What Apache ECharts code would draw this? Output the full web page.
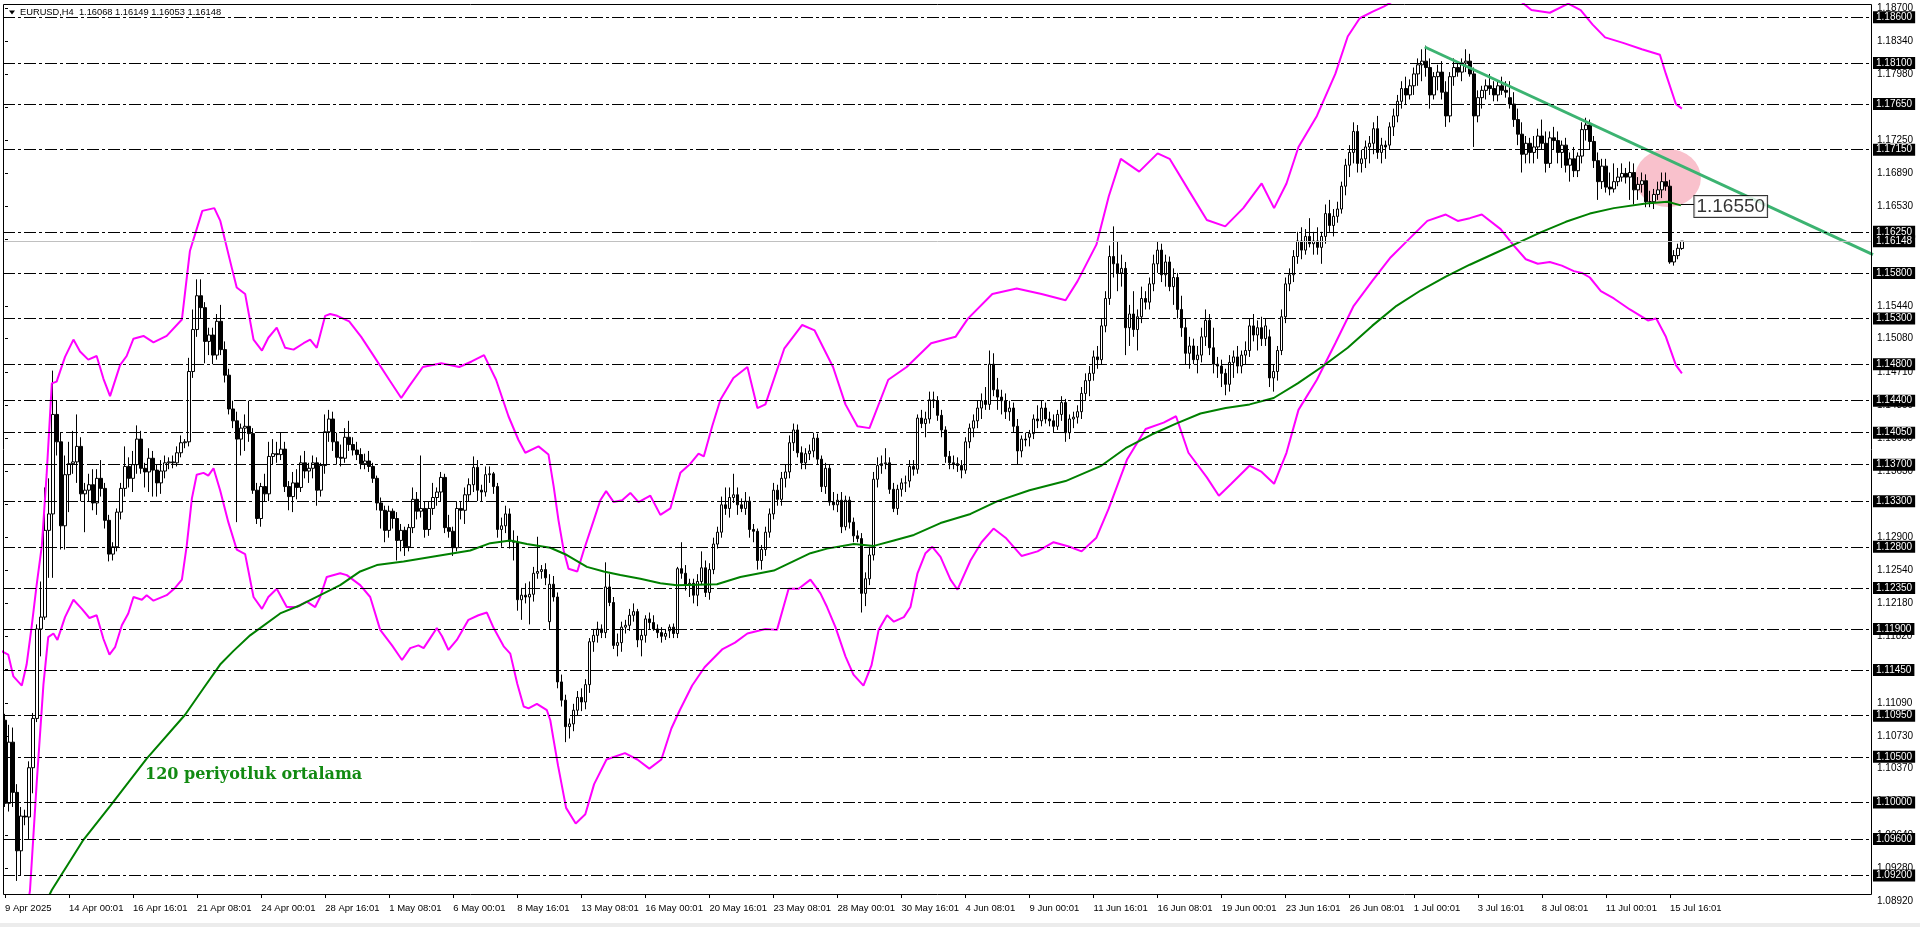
<!DOCTYPE html>
<html><head><meta charset="utf-8">
<script src="https://cdn.jsdelivr.net/npm/echarts@6/dist/echarts.min.js"></script>
<style>html,body{margin:0;padding:0;background:#fff}#c{width:1920px;height:927px}</style>
</head><body><div id="c"></div>
<script>
// time axis labels (one every 16 H4 bars)
const timeLabels = ['9 Apr 2025','14 Apr 00:01','16 Apr 16:01','21 Apr 08:01','24 Apr 00:01','28 Apr 16:01','1 May 08:01','6 May 00:01','8 May 16:01','13 May 08:01','16 May 00:01','20 May 16:01','23 May 08:01','28 May 00:01','30 May 16:01','4 Jun 08:01','9 Jun 00:01','11 Jun 16:01','16 Jun 08:01','19 Jun 00:01','23 Jun 16:01','26 Jun 08:01','1 Jul 00:01','3 Jul 16:01','8 Jul 08:01','11 Jul 00:01','15 Jul 16:01'];
// right price scale tick labels
const priceTicks = [1.18700,1.18340,1.17980,1.17610,1.17250,1.16890,1.16530,1.16170,1.15800,1.15440,1.15080,1.14710,1.14350,1.13990,1.13630,1.13270,1.12900,1.12540,1.12180,1.11820,1.11460,1.11090,1.10730,1.10370,1.10010,1.09640,1.09280,1.08920];
// horizontal dashed levels
const levels = [1.18600,1.18100,1.17650,1.17150,1.16250,1.15800,1.15300,1.14800,1.14400,1.14050,1.13700,1.13300,1.12800,1.12350,1.11900,1.11450,1.10950,1.10500,1.10000,1.09600,1.09200];
const bidPrice = 1.16148;
const titleText = 'EURUSD,H4  1.16068 1.16149 1.16053 1.16148';
const maText = '120 periyotluk ortalama';
const priceLabelValue = 1.16550;
// H4 candles: open, high, low, close (in 1/10000)
const candles = [
[11090,11097,10995,10999],[10999,11085,10990,11066],[11066,11082,10995,11011],[11011,11020,10914,10947],[10947,10995,10920,10985],[10985,10992,10975,10984],[10984,11045,10960,11038],[11038,11098,11010,11092],[11092,11195,11088,11190],[11190,11242,11160,11203],
[11203,11345,11200,11298],[11298,11355,11246,11316],[11316,11473,11246,11425],[11425,11440,11380,11395],[11395,11405,11277,11303],[11303,11380,11277,11359],[11359,11395,11318,11371],[11371,11407,11360,11373],[11373,11425,11350,11390],[11390,11400,11330,11338],
[11338,11350,11296,11342],[11342,11360,11330,11348],[11348,11365,11320,11328],[11328,11365,11315,11355],[11355,11375,11335,11344],[11344,11350,11300,11309],[11309,11315,11264,11272],[11272,11285,11265,11280],[11280,11322,11275,11318],[11318,11350,11310,11344],
[11344,11390,11335,11368],[11368,11378,11345,11355],[11355,11385,11340,11370],[11370,11413,11360,11398],[11398,11407,11360,11366],[11366,11372,11345,11362],[11362,11388,11340,11377],[11377,11385,11335,11364],[11364,11370,11335,11350],[11350,11375,11338,11363],
[11363,11380,11355,11372],[11372,11378,11365,11373],[11373,11380,11366,11372],[11372,11390,11368,11383],[11383,11402,11378,11394],[11394,11398,11388,11395],[11395,11487,11390,11472],[11472,11540,11465,11518],[11518,11573,11510,11555],[11555,11573,11530,11542],
[11542,11548,11481,11505],[11505,11520,11490,11512],[11512,11520,11480,11490],[11490,11535,11485,11527],[11527,11545,11490,11496],[11496,11505,11460,11468],[11468,11475,11425,11431],[11431,11440,11410,11418],[11418,11428,11307,11398],[11398,11415,11380,11410],
[11410,11425,11385,11412],[11412,11440,11395,11404],[11404,11410,11338,11342],[11342,11350,11305,11311],[11311,11350,11302,11346],[11346,11360,11330,11338],[11338,11395,11330,11379],[11379,11398,11370,11382],[11382,11395,11372,11381],[11381,11405,11375,11387],
[11387,11395,11340,11346],[11346,11352,11320,11335],[11335,11362,11318,11350],[11350,11365,11332,11345],[11345,11380,11340,11372],[11372,11385,11355,11363],[11363,11372,11350,11366],[11366,11380,11355,11372],[11372,11378,11325,11342],[11342,11372,11335,11369],
[11369,11425,11360,11406],[11406,11430,11395,11420],[11420,11428,11385,11395],[11395,11405,11370,11378],[11378,11392,11368,11377],[11377,11410,11372,11400],[11400,11418,11385,11392],[11392,11400,11380,11386],[11386,11395,11375,11381],[11381,11388,11365,11371],
[11371,11382,11365,11374],[11374,11385,11362,11368],[11368,11372,11350,11355],[11355,11358,11320,11328],[11328,11334,11300,11320],[11320,11325,11285,11298],[11298,11325,11290,11319],[11319,11322,11300,11311],[11311,11318,11265,11287],[11287,11305,11275,11298],
[11298,11302,11270,11280],[11280,11305,11275,11301],[11301,11345,11295,11332],[11332,11340,11310,11319],[11319,11380,11312,11322],[11322,11330,11290,11299],[11299,11330,11292,11322],[11322,11350,11315,11334],[11334,11345,11325,11340],[11340,11362,11330,11356],
[11356,11360,11295,11301],[11301,11315,11290,11297],[11297,11302,11270,11279],[11279,11330,11275,11322],[11322,11330,11310,11320],[11320,11345,11305,11337],[11337,11355,11330,11348],[11348,11379,11340,11367],[11367,11375,11330,11342],[11342,11348,11330,11340],
[11340,11368,11335,11359],[11359,11368,11350,11360],[11360,11362,11338,11346],[11346,11350,11290,11299],[11299,11312,11280,11303],[11303,11325,11295,11316],[11316,11322,11278,11286],[11286,11298,11265,11285],[11285,11292,11210,11222],[11222,11235,11200,11227],
[11227,11240,11218,11225],[11225,11242,11195,11228],[11228,11258,11220,11251],[11251,11291,11245,11253],[11253,11260,11245,11255],[11255,11262,11238,11246],[11198,11250,11190,11239],[11239,11248,11220,11225],[11225,11230,11125,11132],[11132,11140,11105,11112],
[11112,11118,11066,11083],[11083,11092,11070,11086],[11086,11108,11078,11101],[11101,11122,11095,11115],[11115,11125,11100,11110],[11110,11135,11102,11129],[11129,11180,11120,11176],[11176,11190,11165,11183],[11183,11198,11175,11190],[11190,11195,11180,11186],
[11186,11263,11180,11236],[11236,11250,11215,11219],[11219,11225,11168,11172],[11172,11185,11160,11175],[11175,11198,11165,11192],[11192,11200,11185,11194],[11194,11212,11188,11205],[11205,11218,11198,11209],[11209,11212,11170,11178],[11178,11190,11160,11183],
[11183,11205,11175,11201],[11201,11208,11190,11197],[11197,11205,11188,11190],[11190,11195,11180,11186],[11186,11192,11175,11182],[11182,11190,11178,11185],[11188,11195,11180,11192],[11192,11196,11180,11185],[11185,11258,11180,11256],[11256,11285,11245,11251],
[11251,11260,11232,11238],[11238,11245,11225,11240],[11240,11245,11218,11227],[11227,11250,11215,11242],[11242,11275,11238,11257],[11257,11265,11225,11230],[11230,11262,11222,11255],[11255,11290,11250,11283],[11283,11302,11278,11296],[11296,11335,11290,11326],
[11326,11345,11315,11322],[11322,11345,11312,11334],[11334,11360,11328,11337],[11337,11345,11315,11326],[11326,11333,11318,11322],[11322,11340,11315,11330],[11330,11335,11290,11299],[11299,11305,11285,11297],[11297,11300,11255,11265],[11265,11282,11255,11277],
[11277,11302,11270,11296],[11296,11322,11290,11316],[11316,11350,11310,11342],[11342,11348,11325,11332],[11332,11362,11325,11355],[11355,11370,11345,11362],[11362,11402,11355,11394],[11394,11415,11385,11408],[11408,11414,11378,11383],[11383,11390,11365,11372],
[11372,11388,11365,11382],[11382,11392,11375,11385],[11385,11405,11378,11399],[11399,11404,11370,11376],[11376,11380,11340,11346],[11346,11372,11338,11366],[11366,11370,11325,11329],[11329,11340,11320,11326],[11326,11338,11318,11331],[11331,11340,11295,11302],
[11302,11336,11298,11331],[11331,11335,11300,11307],[11307,11312,11285,11292],[11292,11298,11285,11289],[11289,11295,11208,11229],[11229,11252,11215,11245],[11245,11280,11238,11271],[11271,11362,11265,11354],[11354,11378,11345,11369],[11369,11380,11360,11371],
[11371,11388,11365,11372],[11372,11378,11338,11343],[11343,11350,11318,11322],[11322,11348,11315,11343],[11343,11355,11335,11350],[11350,11358,11340,11350],[11352,11375,11345,11368],[11368,11375,11358,11365],[11365,11425,11360,11421],[11421,11430,11410,11415],
[11415,11428,11400,11420],[11420,11450,11415,11441],[11441,11450,11432,11440],[11440,11445,11418,11424],[11424,11430,11400,11408],[11408,11412,11372,11379],[11379,11385,11365,11372],[11372,11380,11365,11371],[11371,11378,11362,11369],[11369,11375,11355,11364],
[11364,11400,11360,11395],[11395,11415,11388,11410],[11410,11425,11400,11418],[11418,11440,11410,11432],[11432,11448,11420,11440],[11440,11455,11430,11436],[11436,11495,11430,11480],[11480,11492,11445,11452],[11452,11465,11430,11444],[11444,11452,11425,11440],
[11440,11448,11420,11428],[11428,11440,11418,11432],[11432,11438,11405,11412],[11412,11420,11370,11385],[11385,11402,11378,11398],[11398,11405,11390,11397],[11400,11408,11390,11404],[11404,11425,11398,11420],[11420,11435,11410,11418],[11418,11440,11412,11432],
[11432,11438,11415,11420],[11420,11428,11412,11418],[11418,11425,11405,11412],[11412,11430,11408,11425],[11425,11445,11418,11438],[11438,11442,11395,11405],[11405,11425,11398,11420],[11420,11428,11410,11422],[11422,11435,11415,11428],[11428,11455,11420,11448],
[11448,11470,11440,11462],[11462,11478,11445,11470],[11470,11495,11462,11488],[11488,11500,11475,11485],[11485,11530,11480,11522],[11522,11560,11515,11552],[11552,11610,11545,11598],[11598,11631,11575,11590],[11590,11615,11560,11580],[11580,11600,11565,11585],
[11585,11592,11490,11520],[11520,11545,11500,11535],[11535,11560,11510,11518],[11518,11540,11495,11532],[11532,11565,11525,11552],[11552,11560,11540,11548],[11548,11575,11540,11568],[11568,11600,11560,11590],[11590,11615,11580,11605],[11605,11612,11570,11578],
[11578,11600,11565,11592],[11592,11598,11560,11565],[11565,11585,11545,11575],[11575,11580,11530,11540],[11540,11555,11510,11520],[11520,11530,11480,11492],[11492,11510,11475,11500],[11500,11508,11480,11485],[11485,11500,11470,11490],[11490,11520,11482,11510],
[11510,11540,11500,11528],[11528,11535,11490,11498],[11498,11520,11470,11480],[11480,11488,11465,11478],[11478,11485,11455,11470],[11470,11475,11446,11458],[11458,11490,11450,11482],[11482,11495,11465,11488],[11488,11500,11470,11478],[11478,11495,11470,11490],
[11490,11505,11480,11495],[11495,11530,11488,11522],[11522,11535,11505,11512],[11512,11528,11495,11520],[11520,11532,11500,11508],[11508,11530,11500,11522],[11510,11518,11455,11465],[11465,11480,11450,11472],[11472,11500,11462,11495],[11495,11540,11490,11532],
[11532,11575,11525,11568],[11568,11585,11560,11578],[11578,11605,11570,11598],[11598,11625,11590,11615],[11615,11630,11595,11605],[11605,11628,11600,11620],[11620,11640,11608,11612],[11612,11625,11600,11615],[11615,11630,11600,11608],[11608,11625,11590,11620],
[11620,11655,11612,11645],[11645,11660,11625,11632],[11632,11650,11620,11642],[11642,11658,11635,11650],[11650,11680,11645,11675],[11675,11705,11665,11698],[11698,11720,11685,11712],[11712,11745,11700,11735],[11735,11742,11690,11700],[11700,11715,11690,11705],
[11705,11725,11695,11718],[11718,11730,11700,11722],[11722,11745,11710,11738],[11738,11752,11705,11712],[11712,11728,11700,11720],[11720,11725,11705,11718],[11720,11745,11715,11740],[11740,11760,11730,11752],[11752,11775,11745,11768],[11768,11790,11760,11782],
[11782,11795,11765,11775],[11775,11792,11770,11785],[11785,11805,11775,11798],[11798,11815,11785,11808],[11808,11825,11790,11812],[11812,11829,11795,11805],[11805,11815,11760,11775],[11775,11800,11770,11795],[11795,11808,11780,11800],[11800,11812,11770,11778],
[11778,11790,11740,11752],[11752,11800,11745,11795],[11795,11815,11785,11805],[11805,11812,11795,11800],[11800,11815,11790,11810],[11810,11825,11800,11812],[11812,11820,11795,11798],[11798,11805,11718,11752],[11752,11780,11745,11772],[11772,11785,11760,11780],
[11780,11792,11770,11785],[11785,11798,11775,11782],[11782,11790,11768,11775],[11775,11790,11768,11785],[11785,11795,11775,11780],[11780,11790,11772,11778],[11772,11790,11760,11765],[11765,11778,11740,11748],[11748,11760,11720,11732],[11732,11745,11690,11710],
[11710,11730,11700,11722],[11722,11728,11700,11712],[11712,11730,11700,11718],[11718,11738,11705,11730],[11730,11748,11715,11722],[11722,11735,11690,11700],[11700,11735,11695,11728],[11728,11740,11715,11725],[11725,11735,11700,11712],[11712,11725,11695,11720],
[11720,11728,11690,11698],[11698,11712,11680,11705],[11705,11718,11685,11692],[11692,11712,11685,11708],[11708,11745,11700,11737],[11737,11750,11725,11742],[11742,11748,11715,11724],[11724,11730,11695,11703],[11703,11712,11660,11680],[11680,11705,11672,11697],
[11697,11705,11668,11674],[11674,11690,11665,11672],[11672,11700,11668,11680],[11680,11695,11675,11685],[11685,11700,11680,11689],[11689,11695,11678,11685],[11685,11702,11660,11690],[11690,11700,11655,11671],[11671,11685,11660,11677],[11677,11690,11668,11681],
[11681,11688,11652,11658],[11658,11670,11652,11658],[11658,11672,11650,11666],[11666,11680,11660,11671],[11671,11690,11662,11680],[11680,11690,11670,11675],[11675,11682,11590,11592],[11592,11605,11588,11599],[11599,11612,11595,11607],[11607,11615,11605,11615]
];
// 120-period moving average (bar index, price)
const maLine = [[10,1.0889],[11.7,1.0904],[19.6,1.0959],[26.25,1.0996],[35.4,1.1048],[45,1.1096],[49.6,1.1125],[53.75,1.1151],[57.1,1.1166],[61.25,1.1183],[68.75,1.1207],[73.75,1.1216],[78.75,1.1227],[83.75,1.1238],[88.75,1.1253],[92.9,1.1260],[99.6,1.1264],[107.9,1.1270],[116.25,1.1276],[121.25,1.1284],[126.25,1.1287],[130.4,1.1283],[136.25,1.1279],[140.4,1.1271],[145.4,1.1258],[149.6,1.1253],[153.75,1.1249],[158.75,1.1245],[163.75,1.1240],[167.9,1.1238],[177.9,1.1239],[183.75,1.1247],[192.1,1.1254],[201.25,1.1273],[205.4,1.1278],[212.1,1.1283],[217.1,1.1281],[222.1,1.1287],[227.1,1.1293],[233.75,1.1306],[241.25,1.1316],[248,1.1330],[256,1.1342],[265,1.1352],[274,1.1369],[280,1.1388],[286.5,1.1403],[292.6,1.1415],[298.7,1.1426],[305,1.1432],[311,1.1436],[317,1.1443],[323,1.1459],[329,1.1477],[335.5,1.1498],[341.6,1.1522],[347.7,1.1544],[353.8,1.1561],[360,1.1576],[366,1.1589],[372,1.1601],[378,1.1613],[384,1.1625],[390,1.1636],[396,1.1645],[402,1.1651],[410,1.1656],[415.4,1.1658],[418.75,1.1654]];
// Bollinger upper band (bar index, price)
const bbUpper = [[-1,1.1166],[0.8,1.1162],[2.1,1.1138],[4.2,1.1128],[5.4,1.1151],[6.7,1.1194],[7.9,1.1238],[9.2,1.1281],[10.4,1.1359],[11.7,1.1459],[12.9,1.1461],[15,1.1488],[17.1,1.1507],[18.75,1.1494],[20.8,1.1485],[22.9,1.1489],[24.6,1.1464],[26.25,1.1445],[28.75,1.1479],[30.4,1.1489],[32.1,1.1508],[34.6,1.1511],[37.1,1.1504],[40.4,1.1511],[44.2,1.1529],[45,1.1559],[46.2,1.1604],[49.3,1.1648],[52.3,1.1651],[53.8,1.1637],[56.7,1.1585],[57.9,1.1564],[60,1.1557],[62.1,1.1507],[64.2,1.1495],[65.8,1.1509],[67.9,1.1520],[70,1.1498],[72.1,1.1496],[74.6,1.1503],[76.25,1.1507],[77.9,1.1498],[80,1.1533],[81.25,1.1535],[83,1.1533],[86,1.1527],[89,1.1510],[92,1.1490],[96,1.1463],[99,1.1443],[101,1.1456],[104.4,1.1477],[109,1.1481],[113.5,1.1477],[116.6,1.1483],[119.7,1.1490],[122.7,1.1463],[125.8,1.1423],[128.3,1.1397],[130,1.1383],[133.3,1.1390],[135.8,1.1381],[137.1,1.1346],[138.3,1.1309],[139.6,1.1276],[140.8,1.1256],[143,1.1253],[144.6,1.1276],[147.1,1.1309],[148.75,1.1331],[150.2,1.1341],[152.1,1.1329],[154.2,1.1331],[156.25,1.1339],[158.3,1.1329],[161.25,1.1336],[163.75,1.1315],[166.25,1.1322],[168.75,1.1361],[171.25,1.1371],[173.3,1.1382],[174.6,1.1379],[176.7,1.1412],[178.75,1.1441],[182,1.1465],[185.5,1.1477],[188,1.1432],[190,1.1436],[194.7,1.1497],[199.2,1.1523],[202.3,1.1517],[206.9,1.1477],[210,1.1436],[213,1.1412],[216,1.1410],[220.7,1.1463],[225.3,1.1477],[231.4,1.1503],[237.5,1.1510],[240.6,1.1530],[246.7,1.1557],[252.8,1.1563],[259,1.1557],[265,1.1550],[268,1.1571],[272.7,1.1611],[275.8,1.1664],[278.8,1.1705],[283.4,1.1691],[288,1.1711],[291,1.1705],[295.7,1.1671],[300.3,1.1638],[304.9,1.1631],[309.4,1.1651],[314,1.1678],[317.1,1.1651],[320.2,1.1678],[323.2,1.1718],[327.8,1.1752],[332.4,1.1798],[335.5,1.1839],[338.5,1.1859],[341.6,1.1866],[344.6,1.1872],[347.7,1.1880],[352,1.1900],[358,1.1915],[365,1.1920],[372,1.1905],[377,1.1885],[378.3,1.1879],[381.4,1.1868],[386,1.1865],[390.6,1.1875],[393.7,1.1868],[396.7,1.1852],[399.8,1.1838],[404.3,1.1832],[409,1.1825],[413.5,1.1819],[415,1.1798],[417.5,1.1765],[419,1.1760]];
// Bollinger lower band (bar index, price)
const bbLower = [[4.5,1.0850],[6.25,1.0904],[7.9,1.1020],[9.6,1.1129],[10.8,1.1181],[12.1,1.1185],[13.1,1.1178],[15,1.1203],[17.1,1.1222],[19.2,1.1212],[21.1,1.1202],[22.9,1.1205],[24.6,1.1179],[26.1,1.1162],[27.5,1.1170],[29.2,1.1194],[30.8,1.1207],[32.1,1.1225],[34.2,1.1222],[35.4,1.1227],[37.1,1.1221],[40.4,1.1227],[42.5,1.1235],[44.2,1.1244],[45.4,1.1281],[46.7,1.1333],[47.9,1.1359],[49.6,1.1361],[50.8,1.1358],[52.1,1.1366],[53.75,1.1342],[55.8,1.1307],[57.9,1.1277],[60,1.1272],[62.1,1.1225],[64.2,1.1212],[65.8,1.1225],[67.9,1.1234],[70.4,1.1214],[72.9,1.1214],[75.4,1.1220],[77.5,1.1214],[78.75,1.1225],[80.4,1.1247],[83.75,1.1251],[85.4,1.1249],[88.75,1.1238],[91.25,1.1225],[93.75,1.1189],[96.7,1.1172],[99.2,1.1156],[101.25,1.1169],[103.3,1.1172],[104.6,1.1169],[106.25,1.1180],[107.9,1.1191],[109.2,1.1182],[110.8,1.1167],[112.9,1.1178],[115.8,1.1200],[118.3,1.1205],[120.4,1.1208],[122.1,1.1191],[124.6,1.1171],[126.25,1.1163],[128,1.1130],[129.6,1.1105],[130.8,1.1103],[132.9,1.1108],[135.4,1.1101],[136.25,1.1090],[137.1,1.1068],[138.2,1.1040],[140.2,1.0994],[142.6,1.0977],[145,1.0987],[147.2,1.1020],[150.3,1.1047],[154.9,1.1054],[158,1.1047],[161,1.1037],[164,1.1047],[166.5,1.1081],[168.6,1.1101],[171.7,1.1128],[174.8,1.1148],[179.3,1.1168],[182.4,1.1175],[185.5,1.1185],[190,1.1190],[192.9,1.1189],[195.8,1.1234],[198.3,1.1234],[201.25,1.1244],[203.75,1.1229],[205.4,1.1214],[207.5,1.1192],[210,1.1160],[212,1.1140],[214.5,1.1128],[216.5,1.1150],[218.3,1.1189],[220.4,1.1205],[222.1,1.1198],[224.6,1.1203],[226.25,1.1214],[228,1.1251],[230,1.1273],[231.7,1.1280],[233.75,1.1269],[236.25,1.1244],[238,1.1233],[241.25,1.1265],[244,1.1285],[247,1.1300],[250,1.1290],[254,1.1270],[258,1.1275],[262,1.1285],[266,1.1280],[269,1.1275],[272.7,1.1290],[275.8,1.1322],[280.4,1.1376],[285,1.1409],[289.5,1.1416],[292.6,1.1423],[295.7,1.1383],[300.3,1.1356],[303.3,1.1336],[306.4,1.1349],[311,1.1369],[314,1.1362],[317.1,1.1349],[320.2,1.1383],[323.2,1.1430],[327.8,1.1463],[332.4,1.1503],[337,1.1544],[341.6,1.1571],[346.2,1.1597],[350.8,1.1617],[355.4,1.1637],[360,1.1644],[363,1.1637],[366,1.1640],[369,1.1644],[373.7,1.1628],[377,1.1610],[380,1.1595],[383,1.1590],[386,1.1592],[389,1.1588],[392,1.1582],[394,1.1580],[396,1.1575],[398.75,1.1560],[402,1.1552],[406,1.1540],[410.5,1.1528],[412.6,1.1530],[415,1.1510],[417.5,1.1479],[419,1.1470]];
// descending trend line (bar index, price)
const trendLine = [[354.75,1.18275],[466.75,1.16000]];
// highlight circle and price label anchor
const circleMark = [[415.5,1.16840]];
const labelLeader = [[418.75,1.16550],[422,1.16550]];

const N = 467;
const cats = Array.from({length: N}, (_, i) => String(i));
const kData = candles.map(r => [r[0]/10000, r[3]/10000, r[2]/10000, r[1]/10000]);
kData[kData.length-1] = [1.16068, 1.16148, 1.16053, 1.16149];
const FONT = 'Liberation Sans, Arial, sans-serif';
const showTick = (i) => i % 16 === 0 && (i / 16) < timeLabels.length;

const chart = echarts.init(document.getElementById('c'), null, {renderer: 'canvas'});
const levelLines = levels.map(v => ({yAxis: v, lineStyle: {color: '#000', width: 1, type: [12,3,3,3]}}));
levelLines.push({yAxis: bidPrice, lineStyle: {color: '#c0c0c0', width: 1, type: 'solid'}});

chart.setOption({
  animation: false,
  backgroundColor: '#fff',
  grid: {left: 3, right: 48, top: 4, bottom: 26, containLabel: false},
  xAxis: [
    {type: 'category', data: cats, boundaryGap: true, offset: -7, z: 100,
     axisLine: {show: false},
     axisTick: {show: true, alignWithLabel: true, interval: showTick, length: 4, lineStyle: {color: '#000'}},
     axisLabel: {interval: showTick, align: 'left', margin: 9, fontSize: 9.5, color: '#000', fontFamily: FONT,
       formatter: (v, i) => timeLabels[i / 16] || ''},
     splitLine: {show: false}},
    {type: 'value', min: -0.5, max: N - 0.5, show: false}
  ],
  yAxis: {type: 'value', position: 'right', min: 1.0892, max: 1.18746,
    axisLine: {show: false}, splitLine: {show: false},
    axisTick: {show: true, length: 3, customValues: priceTicks, lineStyle: {color: '#000'}},
    axisLabel: {customValues: priceTicks, margin: 5, fontSize: 10, color: '#000', fontFamily: FONT,
      formatter: v => v.toFixed(5)}},
  series: [
    {type: 'scatter', xAxisIndex: 1, data: circleMark, symbol: 'circle', symbolSize: [66, 58], z: 1,
     itemStyle: {color: '#f9c1cc', opacity: 1}, silent: true},
    {type: 'candlestick', xAxisIndex: 0, data: kData, barWidth: 3, z: 2,
     itemStyle: {color: '#fff', color0: '#000', borderColor: '#000', borderColor0: '#000', borderWidth: 1},
     markLine: {silent: true, symbol: ['none', 'none'], animation: false, precision: 5,
       label: {show: true, position: 'end', distance: 1, formatter: p => Number(p.value).toFixed(5),
         backgroundColor: '#000', color: '#fff', fontSize: 10, fontFamily: FONT, padding: [1, 3, 0, 3], lineHeight: 11},
       data: levelLines}},
    {type: 'line', xAxisIndex: 1, data: bbUpper, showSymbol: false, z: 3, lineStyle: {color: '#ff00ff', width: 2}, silent: true},
    {type: 'line', xAxisIndex: 1, data: bbLower, showSymbol: false, z: 3, lineStyle: {color: '#ff00ff', width: 2}, silent: true},
    {type: 'line', xAxisIndex: 1, data: maLine, showSymbol: false, z: 3, lineStyle: {color: '#008000', width: 2}, silent: true},
    {type: 'line', xAxisIndex: 1, data: trendLine, showSymbol: false, z: 4, lineStyle: {color: '#3cb371', width: 3}, silent: true},
    {type: 'line', xAxisIndex: 1, data: labelLeader, showSymbol: false, z: 4, lineStyle: {color: '#000', width: 1}, silent: true},
    {type: 'scatter', xAxisIndex: 1, data: [[labelLeader[1][0], priceLabelValue]], symbolSize: 1, z: 5,
     itemStyle: {color: 'rgba(0,0,0,0)'}, silent: true,
     label: {show: true, position: 'right', distance: 0, offset: [0, 2], formatter: () => priceLabelValue.toFixed(5),
       color: '#000', fontSize: 19, fontFamily: FONT, backgroundColor: '#fff', borderColor: '#000', borderWidth: 1, padding: [2, 2, 0, 2]}}
  ],
  graphic: [
    {type: 'rect', z: 90, shape: {x: 3, y: 894.5, width: 1869, height: 8}, style: {fill: '#fff'}, silent: true},
    {type: 'rect', z: 100, shape: {x: 3.5, y: 4.5, width: 1868, height: 890}, style: {fill: 'none', stroke: '#000', lineWidth: 1}, silent: true},
    {type: 'rect', z: 100, shape: {x: 0, y: 923, width: 1920, height: 4}, style: {fill: '#ececec'}, silent: true},
    {type: 'polygon', z: 100, shape: {points: [[9, 10.5], [15, 10.5], [12, 14.5]]}, style: {fill: '#000'}, silent: true},
    {type: 'text', z: 100, left: 20, top: 8, style: {text: titleText, fontSize: 9.3, fill: '#000', fontFamily: FONT}, silent: true},
    {type: 'text', z: 100, left: 145, top: 767, style: {text: maText, fontSize: 16, fontWeight: 'bold', fill: '#128a12', fontFamily: 'DejaVu Serif, serif'}, silent: true}
  ]
});
</script></body></html>
